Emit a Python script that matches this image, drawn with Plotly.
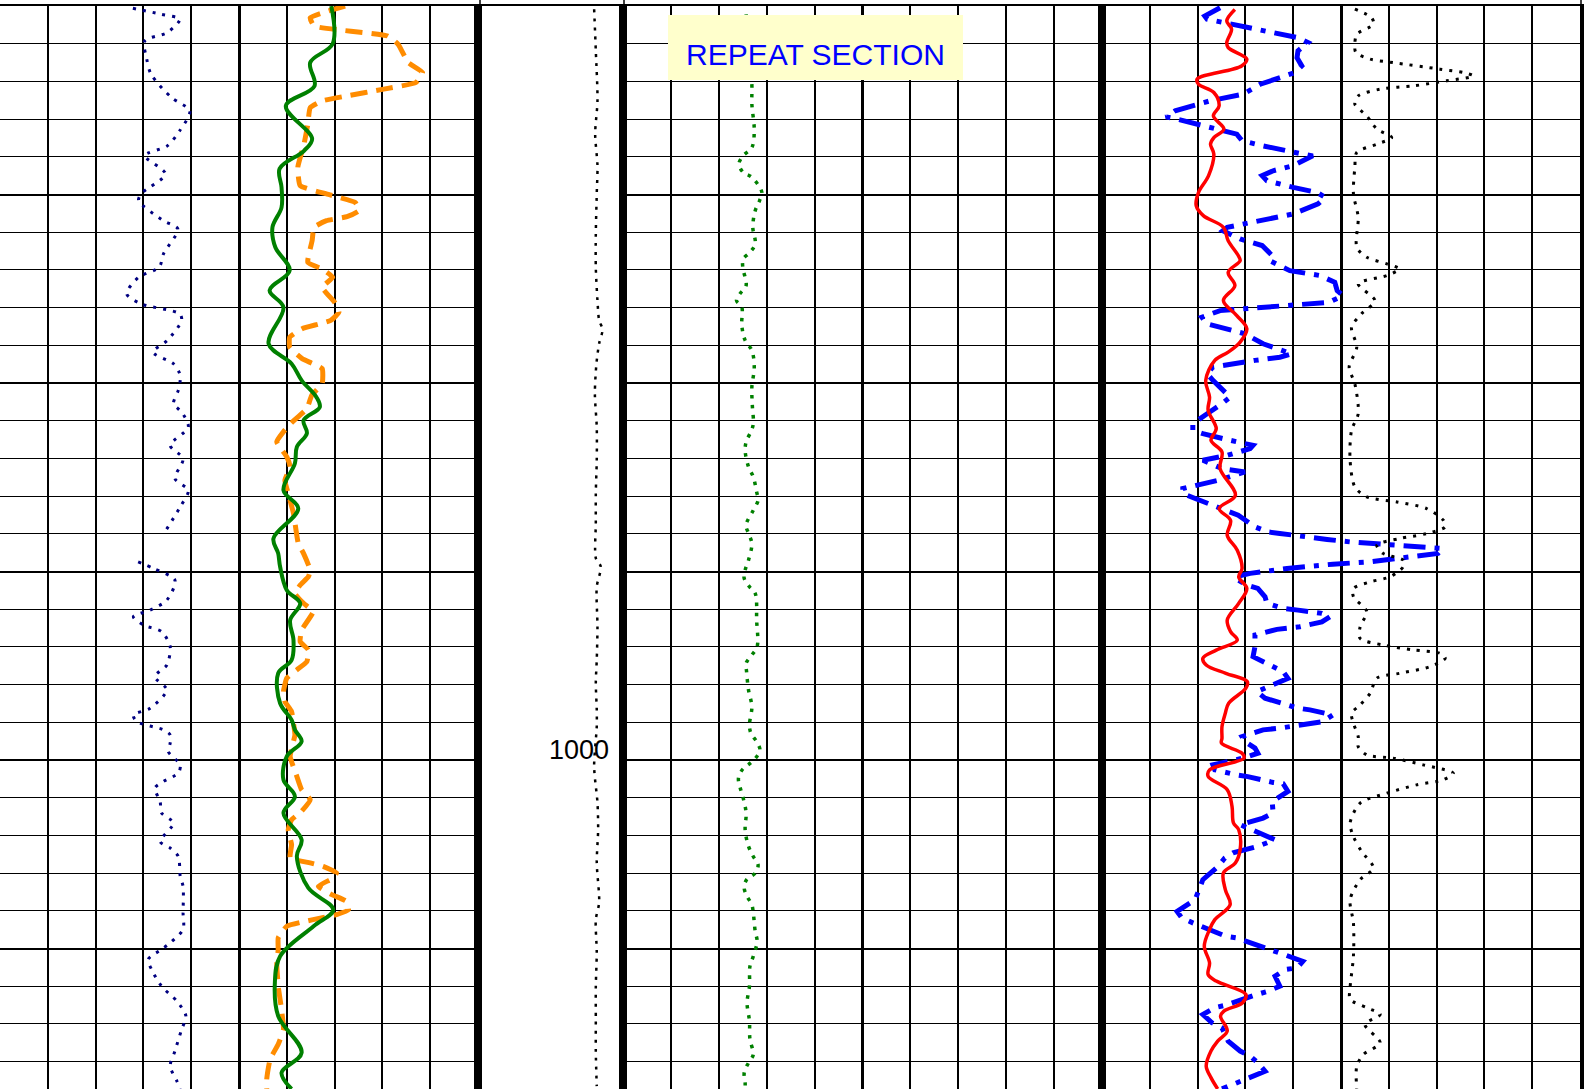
import plotly.graph_objects as go

# ---------------- data (depth in ft, values in curve units) ----------------
# Track 1 : gamma ray (solid green) 0-100, repeat/SP (dashed orange) 0-100, caliper (dotted navy) 6-16 in
gr_depth = [960.0, 962.0, 963.0, 964.24, 965.3, 967.04, 967.68, 968.63, 969.62, 970.68,
            971.74, 972.8, 974.03, 975.09, 975.98, 977.92, 978.98, 979.86, 980.75, 981.28,
            981.98, 982.67, 983.4, 984.26, 985.69, 986.66, 988.25, 989.04, 989.75, 990.99,
            991.69, 992.58, 993.64, 994.7, 995.4, 996.99, 997.87, 998.4, 999.02, 999.81,
            1001.05, 1001.93, 1002.81, 1004.23, 1005.11, 1006.79, 1007.94, 1008.82, 1010.41, 1011.82,
            1013.59, 1015.53, 1016.59, 1017.45]
gr_api = [69.3, 69.6, 64.9, 65.8, 59.8, 65.3, 63.6, 58.5, 58.9, 58.9,
          57.0, 57.6, 60.6, 56.4, 59.3, 56.2, 61.0, 63.1, 66.2, 66.9,
          63.5, 64.2, 62.1, 61.7, 59.3, 62.4, 57.2, 58.2, 58.6, 60.0,
          62.8, 60.7, 61.4, 61.0, 58.2, 58.6, 61.0, 61.7, 63.1, 60.0,
          59.3, 61.7, 59.3, 63.1, 62.1, 64.5, 69.7, 65.6, 58.6, 57.5,
          58.2, 63.1, 58.9, 61.0]

sp_depth = [960.0, 960.62, 961.06, 961.59, 962.03, 963.0, 963.53, 964.06, 964.41, 964.77,
            965.03, 965.39, 966.27, 967.33, 968.56, 969.53, 969.97, 970.42, 970.86, 971.18,
            971.39, 971.74, 972.45, 973.6, 973.95, 974.39, 974.92, 975.72, 976.24, 976.68,
            977.12, 977.57, 978.1, 978.71, 979.24, 980.04, 980.66, 981.36, 982.11, 982.59,
            983.12, 983.92, 984.45, 985.16, 985.86, 986.92, 988.51, 989.04, 989.93, 990.28,
            990.72, 991.16, 991.69, 992.13, 993.11, 993.72, 994.16, 994.78, 995.22, 995.66,
            996.37, 996.9, 997.43, 998.05, 998.67, 999.81, 1000.87, 1001.58, 1002.1, 1002.72,
            1003.17, 1003.7, 1004.49, 1005.2, 1005.46, 1005.64, 1005.99, 1006.26, 1006.7, 1007.14,
            1007.5, 1007.94, 1008.2, 1008.47, 1008.82, 1009.44, 1010.06, 1010.76, 1012.0, 1013.23,
            1014.29, 1015.08, 1015.88, 1016.94, 1017.45]
sp_val = [72.2, 64.9, 65.7, 81.1, 83.3, 85.4, 88.4, 87.0, 80.3, 72.6,
          67.4, 64.9, 64.4, 63.6, 62.3, 62.8, 68.3, 74.3, 75.1, 72.6,
          68.3, 65.7, 65.3, 64.4, 67.4, 69.6, 67.4, 70.0, 70.9, 69.2,
          63.2, 60.6, 60.6, 63.2, 67.4, 67.4, 65.2, 64.2, 61.0, 59.3,
          57.9, 60.0, 60.7, 59.6, 60.3, 61.4, 62.4, 63.5, 64.9, 64.5,
          62.8, 61.7, 63.5, 65.5, 63.1, 62.8, 64.5, 64.2, 62.1, 60.0,
          59.3, 59.6, 61.0, 61.4, 61.7, 60.7, 62.1, 63.1, 64.9, 63.1,
          61.0, 60.3, 61.0, 60.7, 64.9, 67.6, 70.4, 69.7, 66.6, 69.4,
          72.5, 72.9, 70.4, 65.5, 60.0, 58.2, 58.2, 57.9, 58.2, 58.9,
          59.3, 58.2, 56.5, 55.8, 55.8]

cali_depth = [960.12, 960.44, 960.7, 961.41, 961.85, 962.82, 963.62, 964.86, 965.56, 966.62,
              967.42, 967.94, 968.91, 969.97, 970.33, 971.39, 971.83, 973.15, 973.86, 974.39,
              975.27, 975.8, 976.33, 976.68, 977.74, 978.36, 978.98, 979.51, 979.86, 980.39,
              981.1, 981.54, 982.34, 983.31, 984.01, 985.07, 985.69, 986.57, 987.9, None,
              989.49, 989.84, 990.46, 991.52, 992.05, 992.4, 992.84, 993.19, 993.99, 994.96,
              995.58, 996.28, 997.25, 997.61, 997.96, 998.4, 998.67, 999.11, 999.55, 1000.25,
              1000.69, 1001.14, 1001.49, 1002.2, 1002.81, 1003.34, 1004.32, 1004.67, 1005.11, 1006.17,
              1006.7, 1008.11, 1008.99, 1009.7, 1010.05, 1010.58, 1011.11, 1012.0, 1012.79, 1013.59,
              1014.29, 1015.44, 1016.24, 1017.03, 1017.45]
cali_in = [8.78, 9.37, 9.76, 9.5, 9.03, 9.07, 9.16, 9.59, 9.97, 9.76,
           9.5, 9.03, 9.46, 8.95, 8.9, 9.42, 9.72, 9.42, 9.33, 8.9,
           8.65, 8.95, 9.76, 9.8, 9.5, 9.2, 9.63, 9.76, 9.77, 9.73,
           9.63, 9.8, 9.94, 9.56, 9.83, 9.66, 9.94, 9.77, 9.45, None,
           8.89, 9.21, 9.66, 9.49, 9.14, 8.79, 9.0, 9.38, 9.56, 9.49,
           9.24, 9.49, 9.14, 8.79, 8.86, 9.42, 9.56, 9.56, 9.52, 9.77,
           9.73, 9.42, 9.24, 9.35, 9.38, 9.63, 9.35, 9.56, 9.73, 9.77,
           9.83, 9.83, 9.83, 9.56, 9.38, 9.1, 9.17, 9.38, 9.7, 9.89,
           9.8, 9.66, 9.56, 9.7, 9.77]

# Depth track : cable tension (dotted black) 0-10000 lbf
ten_depth = [960.17, 962.38, 965.03, 966.78, 968.47, 969.96, 972.08, 973.88, 975.63, 976.68,
             977.16, 977.9, 978.96, 980.55, 982.34, 984.1, 985.85, 987.44, 989.29, 989.75,
             990.81, 992.93, 994.69, 995.91, 997.34, 998.23, 1000.35, 1002.27, 1003.7, 1005.45,
             1007.55, 1008.47, 1010.21, 1012.0, 1013.76, 1015.51, 1017.3]
ten_lbf = [8010, 8125, 8240, 8080, 8240, 8190, 8125, 8125, 8240, 8355,
           8590, 8355, 8170, 8060, 8190, 8190, 8125, 8125, 8125, 8470,
           8190, 8240, 8190, 8125, 8190, 8190, 8010, 8240, 8285, 8190,
           8355, 8125, 8190, 8125, 8125, 8125, 8190]
depth_labels = [1000]

# Track 2 : dotted green curve, 0-100
tr2_depth = [960.44, 964.15, 965.19, 966.62, 967.51, 967.94, 968.38, 968.83, 969.09, 969.89,
             970.33, 970.86, 971.74, 972.62, 973.07, 973.42, 973.86, 974.83, 975.27, 975.63,
             975.98, 976.95, 977.74, 978.27, 979.16, 980.22, 981.19, 982.16, 982.6, 983.04,
             983.57, 984.45, 984.98, 985.78, 986.22, 986.75, 987.54, 987.98, 988.51, 989.4,
             989.93, 990.37, 990.81, 991.16, 992.58, 993.99, 994.43, 994.87, 995.31, 996.28,
             997.17, 998.14, 998.58, 999.03, 999.47, 999.83, 1000.18, 1000.52, 1000.97, 1001.41,
             1001.93, 1002.81, 1003.7, 1004.58, 1005.12, 1005.56, 1006.0, 1006.35, 1006.79, 1007.23,
             1007.68, 1008.11, 1009.09, 1009.62, 1010.41, 1010.94, 1012.0, 1012.88, 1013.85, 1014.82,
             1015.62, 1016.06, 1016.59, 1017.12, 1017.45]
tr2_val = [25.7, 26.9, 26.9, 27.4, 26.9, 25.1, 24.2, 25.1, 26.9, 29.0,
           28.5, 27.6, 27.1, 27.6, 26.5, 25.1, 25.0, 25.7, 24.4, 23.7,
           24.8, 24.8, 25.5, 26.9, 27.4, 26.9, 27.0, 27.2, 26.7, 25.8,
           25.5, 26.2, 27.2, 27.9, 28.2, 27.2, 25.7, 26.2, 26.9, 26.2,
           25.5, 25.3, 26.4, 27.6, 27.9, 28.0, 26.9, 25.7, 25.8, 26.2,
           26.9, 26.4, 26.7, 27.9, 28.6, 27.9, 26.5, 24.9, 24.1, 24.4,
           25.0, 25.7, 25.5, 26.2, 27.2, 28.2, 27.6, 25.8, 25.3, 25.9,
           26.9, 27.2, 27.6, 28.0, 27.2, 26.5, 26.4, 25.9, 26.4, 26.5,
           27.2, 26.2, 25.3, 25.5, 25.5]

# Track 3 : solid red 0-100, dash-dot blue 0-100, dotted black 0-10
red_depth = [960.18, 960.79, 961.23, 961.94, 962.21, 962.82, 963.18, 963.88, 964.15, 964.59,
             965.3, 965.83, 966.53, 966.98, 967.33, 967.86, 969.0, 969.89, 970.59, 971.12,
             971.74, 972.45, 973.24, 973.51, 974.13, 974.83, 975.63, 976.42, 977.12, 977.83,
             978.36, 978.8, 979.86, 980.75, 981.45, 982.42, 983.04, 983.66, 984.54, 985.96,
             986.66, 987.29, 988.08, 988.87, 989.84, 990.29, 990.9, 991.69, 992.58, 993.19,
             993.64, 994.17, 994.6, 994.96, 995.4, 995.84, 996.19, 996.99, 997.52, 998.23,
             998.84, 999.11, 999.64, 999.9, 1000.52, 1000.87, 1001.58, 1002.46, 1003.34, 1003.7,
             1004.76, 1005.46, 1005.99, 1006.88, 1007.68, 1008.47, 1008.99, 1009.88, 1010.76, 1011.38,
             1011.73, 1012.44, 1012.88, 1013.32, 1013.59, 1014.38, 1014.91, 1015.44, 1016.24, 1016.85,
             1017.45]
red_val = [27.8, 26.1, 27.1, 26.1, 26.4, 30.3, 29.2, 19.9, 20.2, 23.4,
           24.5, 23.3, 25.5, 23.4, 22.7, 23.4, 22.3, 20.2, 19.7, 21.2,
           25.4, 26.4, 28.5, 28.9, 26.4, 27.8, 25.4, 28.2, 30.3, 28.9,
           26.4, 23.6, 21.7, 22.5, 22.2, 23.9, 22.8, 25.1, 24.7, 27.9,
           24.5, 26.9, 26.2, 28.3, 29.3, 28.6, 30.3, 28.6, 26.2, 26.9,
           28.3, 23.9, 21.1, 21.8, 25.9, 30.4, 30.1, 26.5, 25.8, 25.1,
           25.1, 25.0, 29.3, 29.7, 22.5, 22.2, 26.2, 27.2, 27.5, 28.6,
           28.9, 27.9, 25.4, 25.8, 26.8, 23.6, 22.5, 21.4, 22.5, 22.2,
           23.9, 30.1, 29.4, 25.5, 24.8, 26.2, 24.2, 22.8, 21.8, 22.8,
           24.2]

blue_depth = [960.09, 960.53, 960.7, 961.32, 961.68, 961.94, 962.38, 962.74, 963.18, 963.53,
              964.15, 964.68, 965.03, 965.56, 965.88, 966.0, 966.45, 966.8, 967.15, 967.42,
              967.82, 967.95, 968.47, 968.74, 969.0, 969.27, 969.62, 969.89, 970.15, 970.5,
              971.03, 971.48, 971.74, 971.92, 972.36, 972.71, 973.24, 973.51, 974.04, 974.3,
              974.66, 975.1, 975.36, 975.72, 975.89, 976.16, 976.51, 976.86, 977.39, 977.92,
              978.45, 978.63, 978.8, 978.98, 979.16, 979.51, 979.86, 980.75, 981.1, 981.63,
              982.16, 982.51, 982.69, 983.04, 983.31, 983.48, 983.84, 984.1, 984.54, 984.72,
              984.98, 985.16, 985.6, 985.86, 986.13, 986.57, 986.84, 987.01, 987.63, 987.9,
              987.98, 988.16, 988.3, 988.43, 988.51, 988.6, 988.65, 988.78, 989.04, 989.13,
              989.36, 989.49, 989.61, 989.75, 989.84, 990.1, 990.28, 990.46, 990.72, 990.9,
              991.34, 991.69, 991.96, 992.05, 992.22, 992.4, 992.67, 992.93, 993.07, 993.37,
              993.99, 994.52, 995.13, 995.31, 995.67, 996.11, 996.37, 996.72, 997.08, 997.25,
              997.34, 997.61, 997.96, 998.05, 998.31, 998.4, 998.76, 999.02, 999.37, 999.64,
              999.9, 1000.26, 1000.52, 1000.79, 1000.88, 1001.19, 1001.26, 1001.67, 1002.2, 1002.81,
              1003.08, 1003.43, 1003.79, 1004.23, 1004.58, 1004.93, 1005.2, 1005.64, 1006.35, 1006.87,
              1007.4, 1008.03, 1008.38, 1008.64, 1009.09, 1009.35, 1009.44, 1009.79, 1010.02, 1010.24,
              1010.68, 1011.03, 1011.12, 1011.47, 1012.0, 1012.27, 1012.44, 1012.79, 1013.02, 1013.14,
              1013.5, 1013.94, 1014.21, 1014.92, 1015.44, 1015.71, 1016.06, 1016.51, 1016.77, 1016.95,
              1017.22, 1017.45]
blue_val = [24.7, 21.5, 22.0, 33.7, 41.0, 43.1, 41.0, 40.8, 41.8, 40.4,
            33.1, 29.5, 22.6, 15.3, 13.4, 15.7, 23.0, 28.2, 29.3, 33.7,
            41.4, 44.1, 40.0, 35.8, 33.5, 34.5, 40.0, 45.0, 46.7, 45.2,
            40.0, 31.0, 26.2, 25.3, 28.9, 33.5, 35.6, 35.1, 39.3, 45.6,
            48.7, 49.2, 50.4, 47.5, 37.2, 24.7, 20.9, 22.0, 29.9, 33.7,
            39.7, 37.2, 32.0, 27.4, 23.2, 22.0, 23.2, 26.8, 25.1, 22.0,
            19.0, 19.0, 21.1, 26.8, 31.6, 31.0, 26.2, 21.1, 25.1, 29.9,
            26.8, 24.3, 16.9, 16.9, 19.5, 24.1, 26.4, 28.5, 32.0, 34.7,
            37.2, 42.0, 47.1, 51.9, 56.7, 61.7, 66.5, 71.3, 70.3, 67.2,
            60.3, 56.1, 48.3, 41.4, 38.7, 31.0, 27.8, 28.5, 30.3, 32.6,
            34.1, 34.5, 37.9, 41.0, 46.0, 47.7, 46.0, 41.4, 36.6, 32.0,
            32.0, 31.6, 36.6, 37.9, 38.9, 34.5, 32.4, 34.1, 38.7, 41.0,
            43.5, 48.3, 46.2, 44.1, 37.2, 33.7, 29.3, 29.9, 32.0, 32.6,
            29.5, 23.2, 23.6, 28.2, 30.5, 35.8, 37.9, 38.9, 35.6, 35.8,
            33.7, 28.9, 32.0, 36.2, 32.6, 27.4, 25.7, 24.3, 21.1, 20.3,
            19.5, 15.7, 16.7, 19.0, 23.2, 25.9, 28.2, 32.4, 35.1, 37.2,
            42.0, 40.8, 38.3, 36.2, 37.2, 34.7, 32.4, 28.5, 25.7, 23.6,
            21.1, 23.0, 25.1, 26.4, 28.9, 31.0, 32.6, 34.1, 31.6, 29.3,
            26.8, 25.1]

pef_depth = [960.17, 960.62, 960.97, 961.5, 962.03, 962.47, 962.82, 963.0, 963.35, 963.53,
             963.71, 963.97, 964.24, 964.41, 964.77, 965.21, 965.83, 966.53, 966.98, 967.33,
             967.77, 968.56, 969.97, 971.21, 972.8, 973.33, 973.68, 973.95, 974.3, 974.74,
             975.63, 976.33, 977.04, 978.1, 979.16, 980.04, 981.63, 982.51, 984.1, 985.51,
             986.04, 986.31, 986.66, 987.28, 987.63, 987.99, 988.25, 988.6, 989.04, 989.4,
             989.75, 990.28, 990.55, 990.9, 991.34, 992.13, 992.93, 993.55, 993.9, 994.16,
             994.34, 994.6, 995.05, 995.4, 995.66, 996.46, 997.08, 997.52, 998.05, 998.76,
             999.29, 999.73, 999.9, 1000.26, 1000.7, 1001.05, 1001.32, 1001.76, 1002.29, 1003.35,
             1004.06, 1004.85, 1005.73, 1006.35, 1007.41, 1008.64, 1010.41, 1012.08, 1012.7, 1013.14,
             1013.5, 1014.03, 1015.0, 1015.62, 1016.24, 1017.45]
pef_val = [5.29, 5.64, 5.68, 5.33, 5.29, 5.31, 5.61, 6.09, 7.07, 7.56,
           7.77, 7.21, 6.51, 5.82, 5.36, 5.29, 5.54, 5.75, 6.06, 5.75,
           5.33, 5.29, 5.26, 5.36, 5.33, 5.54, 5.96, 6.22, 5.96, 5.36,
           5.71, 5.43, 5.22, 5.33, 5.17, 5.29, 5.36, 5.22, 5.19, 5.29,
           5.54, 6.17, 6.79, 7.14, 7.18, 6.79, 6.23, 5.75, 5.88, 6.30,
           6.30, 6.03, 5.61, 5.26, 5.26, 5.54, 5.40, 5.40, 5.88, 6.51,
           7.07, 7.18, 6.86, 6.23, 5.75, 5.61, 5.40, 5.22, 5.26, 5.36,
           5.36, 5.54, 6.09, 6.72, 7.35, 7.14, 6.58, 5.96, 5.40, 5.19,
           5.26, 5.43, 5.68, 5.40, 5.19, 5.26, 5.26, 5.19, 5.19, 5.54,
           5.82, 5.50, 5.82, 5.47, 5.33, 5.33]

annotation_text = "REPEAT SECTION"

# ---------------- layout geometry ----------------
W, H = 1585, 1089
ML, MR, MT, MB = 0, 5, 6, 0
PW = W - ML - MR          # 1580
PH = H - MT - MB          # 1083
PX_PER_FT = 18.85
top_depth = 960.0
bot_depth = top_depth + PH / PX_PER_FT

edges = [0, 478, 623, 1102, 1580]
dom = [[edges[i] / PW, edges[i + 1] / PW] for i in range(4)]

def px(xpix):
    return xpix / PW

def py(ypix):
    return 1 - (ypix - MT) / PH

FONT = "Liberation Sans, Arial, sans-serif"

fig = go.Figure()

# Track 1
fig.add_trace(go.Scatter(x=sp_val, y=sp_depth, xaxis="x", yaxis="y", mode="lines",
                         line=dict(color="#FF8C00", width=5, dash="17px,9px",
                                   shape="spline", smoothing=0.4)))
fig.add_trace(go.Scatter(x=gr_api, y=gr_depth, xaxis="x", yaxis="y", mode="lines",
                         line=dict(color="#008000", width=4, shape="spline", smoothing=1.0)))
fig.add_trace(go.Scatter(x=cali_in, y=cali_depth, xaxis="x5", yaxis="y", mode="lines",
                         connectgaps=False,
                         line=dict(color="#000080", width=3, dash="3px,7px",
                                   shape="spline", smoothing=0.8)))
# Depth track
fig.add_trace(go.Scatter(x=ten_lbf, y=ten_depth, xaxis="x2", yaxis="y2", mode="lines",
                         line=dict(color="black", width=2.5, dash="3px,6px",
                                   shape="spline", smoothing=0.8)))
# Track 2
fig.add_trace(go.Scatter(x=tr2_val, y=tr2_depth, xaxis="x3", yaxis="y3", mode="lines",
                         line=dict(color="#008000", width=3.5, dash="3.5px,6.5px",
                                   shape="spline", smoothing=1.0)))
# Track 3
fig.add_trace(go.Scatter(x=pef_val, y=pef_depth, xaxis="x6", yaxis="y4", mode="lines",
                         line=dict(color="black", width=3, dash="3px,7px",
                                   shape="spline", smoothing=0.8)))
fig.add_trace(go.Scatter(x=blue_val, y=blue_depth, xaxis="x4", yaxis="y4", mode="lines",
                         line=dict(color="#0000FF", width=5, dash="22px,9px,5px,9px")))
fig.add_trace(go.Scatter(x=red_val, y=red_depth, xaxis="x4", yaxis="y4", mode="lines",
                         line=dict(color="#FF0000", width=3.5, shape="spline", smoothing=1.0)))

def track_x(domain, anchor, rng, grid=True):
    d = dict(domain=domain, anchor=anchor, range=rng, showticklabels=False, ticks="",
             zeroline=False, showline=True, mirror=True, linecolor="black", linewidth=2,
             fixedrange=True)
    if grid:
        d.update(showgrid=True, tick0=rng[0], dtick=(rng[1] - rng[0]) / 2,
                 gridcolor="black", gridwidth=3,
                 minor=dict(tick0=rng[0], dtick=(rng[1] - rng[0]) / 10, showgrid=True,
                            gridcolor="black", gridwidth=1.5, ticks=""))
    else:
        d.update(showgrid=False)
    return d

def track_y(anchor, grid=True):
    d = dict(anchor=anchor, range=[bot_depth, top_depth], showticklabels=False, ticks="",
             zeroline=False, showline=True, mirror=True, linecolor="black", linewidth=3.5,
             fixedrange=True)
    if grid:
        d.update(showgrid=True, tick0=top_depth, dtick=10, gridcolor="black", gridwidth=2,
                 minor=dict(tick0=top_depth, dtick=2, showgrid=True, gridcolor="black",
                            gridwidth=1, ticks=""))
    else:
        d.update(showgrid=False)
    return d

fig.update_layout(
    width=W, height=H,
    margin=dict(l=ML, r=MR, t=MT, b=MB, pad=0),
    paper_bgcolor="white", plot_bgcolor="white",
    showlegend=False,
    xaxis=track_x(dom[0], "y", [0, 100]),
    xaxis2=track_x(dom[1], "y2", [0, 10000], grid=False),
    xaxis3=track_x(dom[2], "y3", [0, 100]),
    xaxis4=track_x(dom[3], "y4", [0, 100]),
    xaxis5=dict(overlaying="x", anchor="y", range=[6, 16], visible=False, fixedrange=True),
    xaxis6=dict(overlaying="x4", anchor="y4", range=[0, 10], visible=False, fixedrange=True),
    yaxis=track_y("x"),
    yaxis2=track_y("x2", grid=False),
    yaxis3=track_y("x3"),
    yaxis4=track_y("x4"),
)

# header separators above the top border
for xp in [480, 624, 1581]:
    fig.add_shape(type="line", xref="paper", yref="paper", x0=px(xp), x1=px(xp),
                  y0=1.0, y1=1 + MT / PH, line=dict(color="black", width=1.5))

# REPEAT SECTION box
fig.add_shape(type="rect", xref="paper", yref="paper", layer="above",
              x0=px(668), x1=px(963), y0=py(80), y1=py(15),
              fillcolor="#FFFFCC", line=dict(width=0))
fig.add_annotation(xref="paper", yref="paper", x=px(815.5), y=py(54),
                   xanchor="center", yanchor="middle", showarrow=False,
                   text=annotation_text, font=dict(family=FONT, size=30, color="#0000FF"))

# depth labels
for d in depth_labels:
    fig.add_annotation(xref="paper", yref="y2", x=px(611), y=d, xanchor="right",
                       yanchor="bottom", yshift=-7, showarrow=False, text=str(d),
                       font=dict(family=FONT, size=27, color="black"))

fig.write_html("out.html")
